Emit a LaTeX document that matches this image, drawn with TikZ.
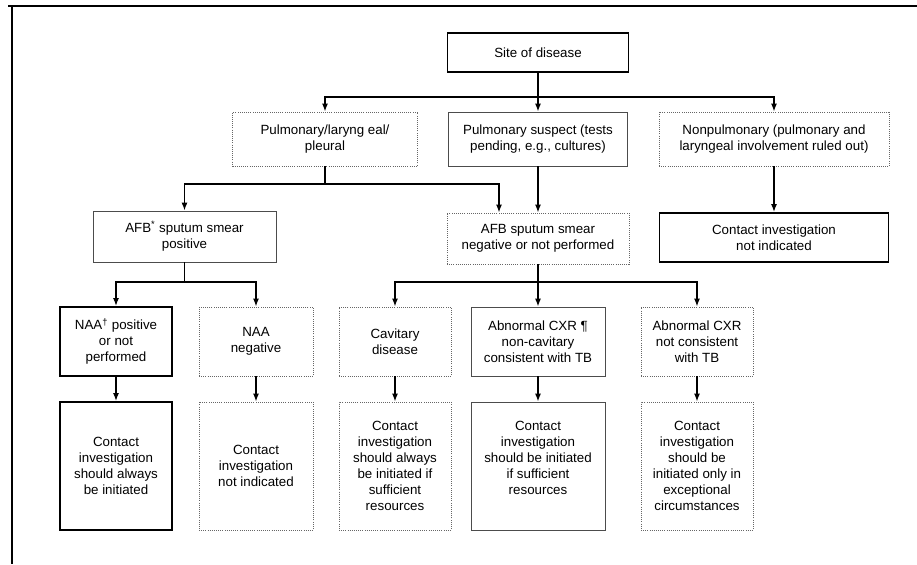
\documentclass[tikz,border=0pt]{standalone}
\usepackage{fontspec}
\setmainfont{Liberation Sans}
\usetikzlibrary{arrows.meta,calc}
\begin{document}
\begin{tikzpicture}[x=0.75pt,y=-0.75pt,
  base/.style={rectangle, align=center, font=\fontsize{10}{12}\selectfont, inner sep=0pt, text=black},
  sz/.style 2 args={minimum width=#1*0.75pt, minimum height=#2*0.75pt},
  thickbox/.style={base, draw=black, line width=1.3pt},
  thinbox/.style={base, draw=black!70, line width=0.5pt},
  dotbox/.style={base, draw=black!60, line width=0.6pt, densely dotted},
  ln/.style={line width=1.1pt},
  arr/.style={line width=1.1pt, -{Latex[length=6pt,width=4.5pt]}}]
\useasboundingbox (0,0) rectangle (917,564);
\draw[line width=1.6pt] (8,6) -- (917,6);
\draw[line width=1.4pt] (12,6) -- (12,564);

% row 1
\node[thickbox, sz={181}{39}] (site) at (538,52.5) {Site of disease};
% row 2
\node[dotbox, sz={185}{54}] (pl) at (325,139) {Pulmonary/laryng eal/\\pleural};
\node[thinbox, sz={179}{54}] (ps) at (538,139) {Pulmonary suspect (tests\\pending, e.g., cultures)};
\node[dotbox, sz={230}{54}] (np) at (774,139) {Nonpulmonary (pulmonary and\\laryngeal involvement ruled out)};
% row 2b
\node[thinbox, sz={183}{51}] (afbp) at (184.5,236.5) {AFB\textsuperscript{*} sputum smear\\positive};
\node[dotbox, sz={182}{51}] (afbn) at (538,238.5) {AFB sputum smear\\negative or not performed};
\node[thickbox, sz={229}{49}] (cni) at (774,237.5) {Contact investigation\\not indicated};
% row 3
\node[thickbox, sz={112}{69}] (naap) at (116,341.5) {NAA\textsuperscript{\textdagger} positive\\or not\\performed};
\node[dotbox, sz={114}{69}] (naan) at (256,341.5) {NAA\\negative};
\node[dotbox, sz={112}{69}] (cav) at (395,341.5) {Cavitary\\disease};
\node[thinbox, sz={134}{69}] (cxra) at (538,341.5) {Abnormal CXR ¶\\non-cavitary\\consistent with TB};
\node[dotbox, sz={112}{69}] (cxrb) at (697,341.5) {Abnormal CXR\\not consistent\\with TB};
% row 4
\node[thickbox, sz={112}{128}] (c1) at (116,466) {Contact\\investigation\\should always\\be initiated};
\node[dotbox, sz={114}{128}] (c2) at (256,466) {Contact\\investigation\\not indicated};
\node[dotbox, sz={112}{128}] (c3) at (395,466) {Contact\\investigation\\should always\\be initiated if\\sufficient\\resources};
\node[thinbox, sz={134}{128}] (c4) at (538,466) {Contact\\investigation\\should be initiated\\if sufficient\\resources\\\mbox{}};
\node[dotbox, sz={112}{128}] (c5) at (697,466) {Contact\\investigation\\should be\\initiated only in\\exceptional\\circumstances};

% connectors
\coordinate (bus) at (538,97);
\draw[ln] (site.south) -- (bus);
\draw[arr] (bus) -- (ps.north);
\draw[arr] (bus) -| (pl.north);
\draw[arr] (bus) -| (np.north);

\coordinate (j1) at (325,184);
\draw[ln] (pl.south) -- (j1);
\draw[arr] (j1) -| (afbp.north);
\draw[arr] (j1) -| ($(afbn.north)+(-39,0)$);
\draw[arr] (ps.south) -- (afbn.north);
\draw[arr] (np.south) -- (cni.north);

\coordinate (j2) at (184.5,282);
\draw[ln] (afbp.south) -- (j2);
\draw[arr] (j2) -| (naap.north);
\draw[arr] (j2) -| (naan.north);

\coordinate (j3) at (538,282);
\draw[arr] (afbn.south) -- (cxra.north);
\draw[arr] (j3) -| (cav.north);
\draw[arr] (j3) -| (cxrb.north);

\draw[arr] (naap.south) -- (c1.north);
\draw[arr] (naan.south) -- (c2.north);
\draw[arr] (cav.south) -- (c3.north);
\draw[arr] (cxra.south) -- (c4.north);
\draw[arr] (cxrb.south) -- (c5.north);
\end{tikzpicture}
\end{document}
